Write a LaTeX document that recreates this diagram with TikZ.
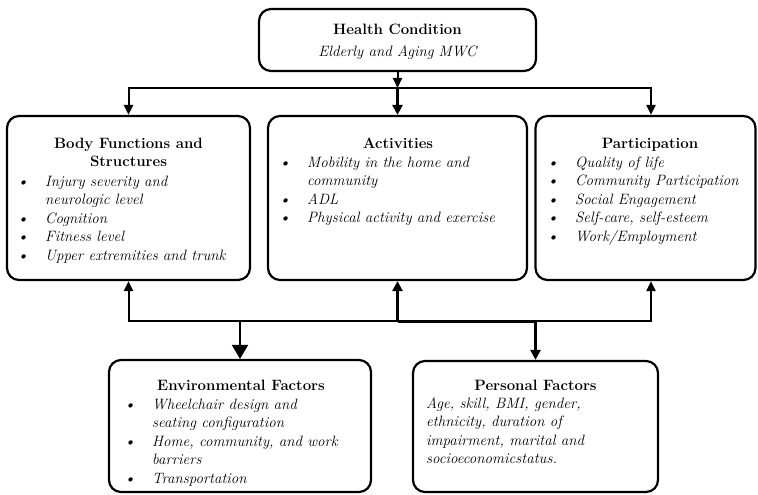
\documentclass[tikz,border=0pt]{standalone}
\usepackage{tikz}
\usetikzlibrary{arrows.meta}
\tikzset{box/.style={draw, line width=2.2pt, rounded corners=12pt, inner sep=0pt},
 head/.style={anchor=base, inner sep=0pt, font=\bfseries},
 items/.style={anchor=base west, inner sep=0pt, font=\itshape},
 arr/.style={line width=2pt, -{Triangle[length=10pt,width=9pt]}},
 thickarr/.style={line width=3pt, -{Triangle[length=10pt,width=10pt]}},
 bigarr/.style={line width=2pt, -{Triangle[length=14pt,width=16pt]}},
 }
\newcommand{\blist}[1]{\begin{tabular}[t]{@{}p{28pt}@{}l@{}}#1\end{tabular}}

\begin{document}
\fontsize{15}{18.6}\selectfont
\begin{tikzpicture}[x=1pt, y=-1pt]
        \useasboundingbox (0,0) rectangle (758,495);

        % boxes
        \node[box, minimum width=277pt, minimum height=62pt] (health) at (397.5,40) {};
        \node[box, minimum width=243pt, minimum height=164pt] (body) at (128.5,198) {};
        \node[box, minimum width=259pt, minimum height=164pt] (act) at (397.5,198) {};
        \node[box, minimum width=220pt, minimum height=164pt] (part) at (645.5,198) {};
        \node[box, minimum width=262pt, minimum height=132pt] (env) at (240,426) {};
        \node[box, minimum width=245pt, minimum height=131pt] (pers) at (535.5,426.5) {};

        % texts
        \node[head] (healtht) at (397.5,35) {Health Condition};
        \node[items, anchor=base] (healths) at (397.5,57) {Elderly and Aging MWC};

        \node[head] (bodyt) at (128.5,148) {\begin{tabular}[t]{@{}c@{}}Body Functions and\\Structures\end{tabular}};
        \node[items] (bodyl) at (17,186) {\blist{
            \textbullet & Injury severity and\\
             & neurologic level\\
            \textbullet & Cognition\\
            \textbullet & Fitness level\\
            \textbullet & Upper extremities and trunk}};

        \node[head] (actt) at (398,148) {Activities};
        \node[items] (actl) at (279,167) {\blist{
            \textbullet & Mobility in the home and\\
             & community\\
            \textbullet & ADL\\
            \textbullet & Physical activity and exercise}};

        \node[head] (partt) at (650,148) {Participation};
        \node[items] (partl) at (547,167) {\blist{
            \textbullet & Quality of life\\
            \textbullet & Community Participation\\
            \textbullet & Social Engagement\\
            \textbullet & Self-care, self-esteem\\
            \textbullet & Work/Employment}};

        \node[head] (envt) at (241,390) {Environmental Factors};
        \node[items] (envl) at (124,409) {\blist{
            \textbullet & Wheelchair design and\\
             & seating configuration\\
            \textbullet & Home, community, and work\\
             & barriers\\
            \textbullet & Transportation}};

        \node[head] (perst) at (535.5,390) {Personal Factors};
        \node[items] (persl) at (426,408) {\begin{tabular}[t]{@{}l@{}}
            Age, skill, BMI, gender,\\
            ethnicity, duration of\\
            impairment, marital and\\
            socioeconomicstatus.\end{tabular}};

        % connectors
        \coordinate (hub) at (397.5,88);
        \coordinate (low) at (397.5,321);
        \draw[arr] (health.south) -- (hub);
        \draw[arr] (hub) -| (body.north);
        \draw[arr] (hub) -| ([xshift=5.5pt]part.north);
        \draw[thickarr] (hub) -- (act.north);

        \draw[arr] (low) -| (body.south);
        \draw[arr] (low) -| ([xshift=5.5pt]part.south);
        \draw[bigarr] (env.north |- low) -- (env.north);
        \draw[thickarr] (low) -- (act.south);
        \draw[thickarr] (low) -| (pers.north);
    \end{tikzpicture}
\end{document}
